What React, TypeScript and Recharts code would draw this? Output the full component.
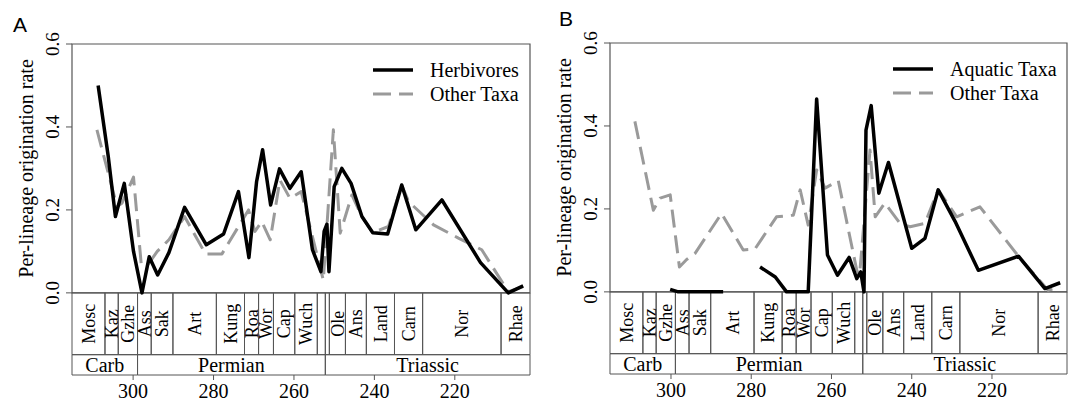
import { LineChart, Line, XAxis, YAxis, ReferenceArea, Legend } from 'recharts'

const FONT = '"Liberation Serif", "Times New Roman", serif'
const AXIS = '#555'
const GRAY = '#9a9a9a'
const DASH = '18 8'

// Panel A: herbivores vs other taxa (age in Ma, per-lineage rate)
const herbAges = [308.7, 306.2, 304.4, 302.2, 299.9, 297.8, 296.0, 293.9, 291.1, 287.2, 281.8, 277.5, 273.8, 271.2, 269.3, 267.8, 265.8, 263.6, 261.0, 258.2, 255.4, 253.3, 252.5, 251.8, 251.3, 250.0, 248.1, 245.8, 243.1, 240.4, 236.7, 233.2, 229.7, 223.2, 213.6, 206.7, 203.0]
const herbRates = [0.5, 0.33, 0.184, 0.264, 0.1, 0.0, 0.087, 0.043, 0.097, 0.206, 0.116, 0.142, 0.244, 0.085, 0.268, 0.345, 0.212, 0.299, 0.252, 0.292, 0.104, 0.051, 0.148, 0.166, 0.051, 0.256, 0.3, 0.264, 0.184, 0.145, 0.142, 0.26, 0.152, 0.224, 0.073, 0.0, 0.017]
const otherAAges = [309.0, 304.0, 302.8, 299.9, 298.0, 296.1, 294.0, 291.1, 287.2, 282.0, 277.9, 271.3, 269.7, 268.0, 265.9, 263.5, 261.0, 258.2, 252.7, 250.2, 248.5, 245.6, 243.1, 240.4, 236.5, 233.2, 231.5, 225.3, 219.1, 213.3, 208.3, 206.7, 203.0]
const otherARates = [0.393, 0.208, 0.216, 0.279, 0.071, 0.071, 0.1, 0.128, 0.184, 0.094, 0.094, 0.2, 0.148, 0.172, 0.128, 0.272, 0.228, 0.244, 0.031, 0.393, 0.144, 0.236, 0.184, 0.145, 0.16, 0.26, 0.22, 0.164, 0.132, 0.104, 0.027, 0.003, 0.015]

// Panel B: aquatic taxa vs other taxa (null = no estimate)
const aquaAges = [300.2, 298.2, 287.0, 282.0, 277.8, 274.0, 271.2, 265.8, 263.7, 261.0, 258.5, 255.6, 253.7, 252.7, 251.9, 251.4, 250.1, 248.2, 245.8, 240.0, 236.7, 233.4, 229.2, 223.4, 213.4, 206.8, 203.0]
const aquaRates = [0.006, 0.0, 0.0, null, 0.06, 0.036, 0.0, 0.0, 0.465, 0.089, 0.04, 0.083, 0.032, 0.048, 0.0, 0.39, 0.449, 0.238, 0.312, 0.105, 0.129, 0.246, 0.17, 0.052, 0.086, 0.008, 0.022]
const otherBAges = [309.0, 304.4, 302.7, 300.2, 297.9, 296.1, 294.0, 287.4, 282.0, 279.1, 273.7, 269.5, 267.8, 265.8, 263.7, 261.6, 258.3, 253.7, 253.0, 250.4, 249.1, 246.7, 242.9, 240.4, 236.7, 233.4, 228.8, 223.0, 213.0, 206.0, 203.0]
const otherBRates = [0.411, 0.197, 0.226, 0.234, 0.06, 0.078, 0.093, 0.189, 0.101, 0.103, 0.181, 0.185, 0.246, 0.161, 0.294, 0.25, 0.268, 0.052, 0.04, 0.342, 0.181, 0.214, 0.165, 0.157, 0.165, 0.246, 0.181, 0.205, 0.081, 0.004, 0.012]

// geological time scale
const stageNames = ['Mosc', 'Kaz', 'Gzhe', 'Ass', 'Sak', 'Art', 'Kung', 'Roa', 'Wor', 'Cap', 'Wuch', '', '', 'Ole', 'Ans', 'Land', 'Carn', 'Nor', 'Rhae']
const stageEdges = [315.2, 307, 303.7, 298.9, 295.5, 290.1, 279.3, 272.3, 268.8, 265.1, 259.8, 254.2, 252.2, 251.2, 247.2, 242, 235, 228, 208.5, 201.3]
const periodNames = ['Carb', 'Permian', 'Triassic']
const periodEdges = [315.2, 298.9, 252.2, 201.3]

const xTicks = [300, 280, 260, 240, 220]
const yTicks = [0, 0.2, 0.4, 0.6]

const STAGE_DEPTH = -0.149
const TABLE_DEPTH = -0.198

const zip = (ages: number[], rates: (number | null)[]) =>
  ages.map((ma, i) => ({ ma, rate: rates[i] }))

function YTick({ x, y, payload }: any) {
  const bx = x - 5
  return (
    <text x={bx} y={y} transform={`rotate(-90, ${bx}, ${y})`} textAnchor="middle"
      fontSize={19} fontFamily={FONT} fill="#000">
      {Number(payload.value).toFixed(1)}
    </text>
  )
}

function XTick({ x, y, payload }: any) {
  return (
    <text x={x} y={y + 16} textAnchor="middle" fontSize={20} fontFamily={FONT} fill="#000">
      {payload.value}
    </text>
  )
}

// centred text inside a reference box, optionally rotated
const boxLabel = (text: string, size: number, rotate: boolean) => (props: any) => {
  const vb = props.viewBox
  if (!vb || !text) return null
  const cx = vb.x + vb.width / 2
  const cy = vb.y + vb.height / 2
  return (
    <text x={cx} y={cy} dy="0.35em" textAnchor="middle" fontSize={size} fontFamily={FONT}
      fill="#000" transform={rotate ? `rotate(-90, ${cx}, ${cy})` : undefined}>
      {text}
    </text>
  )
}

const renderYLabel = (props: any) => {
  const vb = props.viewBox ?? { x: 12, y: 44, width: 60, height: 331 }
  const cx = vb.x + 21.5
  const cy = vb.y + (vb.height * 0.3) / (0.6 - TABLE_DEPTH)
  return (
    <text x={cx} y={cy} transform={`rotate(-90, ${cx}, ${cy})`} textAnchor="middle"
      fontSize={20} fontFamily={FONT} fill="#000">
      Per-lineage origination rate
    </text>
  )
}

interface PanelProps {
  letter: string
  mainLabel: string
  main: { ma: number; rate: number | null }[]
  other: { ma: number; rate: number | null }[]
  left: number
  width: number
  top: number
  bottom: number
  right: number
  legendLeft: number
  legendTop: number
  letterTop: number
  letterLeft: number
}

function Panel(p: PanelProps) {
  return (
    <div style={{ position: 'absolute', left: p.left, top: 0, width: p.width, height: 406, fontFamily: FONT }}>
      <LineChart width={p.width} height={406}
        margin={{ top: p.top, right: p.right, bottom: p.bottom, left: 12 }}>
        <XAxis type="number" dataKey="ma" domain={[201.3, 315.2]} reversed allowDataOverflow
          ticks={xTicks} interval={0} axisLine={false} height={30}
          tickSize={5} tickMargin={2} tickLine={{ stroke: AXIS }} tick={<XTick />} />
        <YAxis type="number" domain={[TABLE_DEPTH, 0.6]} allowDataOverflow ticks={yTicks}
          interval={0} width={60} axisLine={false} tickSize={6}
          tickLine={{ stroke: AXIS }} tick={<YTick />} label={renderYLabel} />
        <ReferenceArea x1={315.2} x2={201.3} y1={0} y2={0.6}
          fill="none" stroke={AXIS} strokeWidth={1.2} />
        {stageNames.map((name, i) => (
          <ReferenceArea key={'s' + i} x1={stageEdges[i]} x2={stageEdges[i + 1]}
            y1={STAGE_DEPTH} y2={0} fill="none" stroke={AXIS} strokeWidth={1}
            label={boxLabel(name, 18, true)} />
        ))}
        {periodNames.map((name, i) => (
          <ReferenceArea key={'p' + i} x1={periodEdges[i]} x2={periodEdges[i + 1]}
            y1={TABLE_DEPTH} y2={STAGE_DEPTH} fill="none" stroke={AXIS} strokeWidth={1}
            label={boxLabel(name, 20, false)} />
        ))}
        <Line data={p.other} dataKey="rate" name="Other Taxa" type="linear" stroke={GRAY}
          strokeWidth={3} strokeDasharray={DASH} dot={false} strokeLinejoin="round"
          isAnimationActive={false} />
        <Line data={p.main} dataKey="rate" name={p.mainLabel} type="linear" stroke="#000"
          strokeWidth={3.5} dot={false} strokeLinejoin="round" isAnimationActive={false} />
        <Legend layout="vertical" align="center" verticalAlign="middle"
          wrapperStyle={{ left: p.legendLeft, top: p.legendTop, width: 180, height: 50 }}
          content={() => (
            <svg width={180} height={50}>
              <line x1={3} x2={43} y1={12} y2={12} stroke="#000" strokeWidth={3.5} />
              <text x={60} y={19} fontSize={20} fontFamily={FONT} fill="#000">{p.mainLabel}</text>
              <line x1={3} x2={43} y1={36} y2={36} stroke={GRAY} strokeWidth={3} strokeDasharray={DASH} />
              <text x={60} y={43} fontSize={20} fontFamily={FONT} fill="#000">Other Taxa</text>
            </svg>
          )} />
      </LineChart>
      <div style={{
        position: 'absolute', left: p.letterLeft, top: p.letterTop, fontSize: 21,
        lineHeight: '21px', fontFamily: '"Liberation Sans", Arial, sans-serif', color: '#000',
      }}>
        {p.letter}
      </div>
    </div>
  )
}

export default function App() {
  return (
    <div style={{ position: 'absolute', left: 0, top: 0, width: 1072, height: 406, background: '#fff' }}>
      <Panel letter="A" mainLabel="Herbivores" main={zip(herbAges, herbRates)}
        other={zip(otherAAges, otherARates)} left={0} width={537} top={44} bottom={1}
        right={7} legendLeft={370} legendTop={58} letterTop={14} letterLeft={13} />
      <Panel letter="B" mainLabel="Aquatic Taxa" main={zip(aquaAges, aquaRates)}
        other={zip(otherBAges, otherBRates)} left={538} width={534} top={43} bottom={2}
        right={5} legendLeft={352} legendTop={57} letterTop={8} letterLeft={21} />
    </div>
  )
}
